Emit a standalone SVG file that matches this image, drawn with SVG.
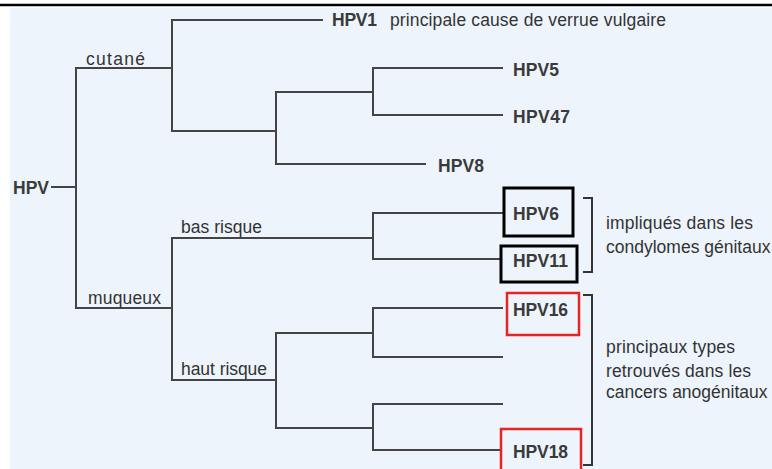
<svg xmlns="http://www.w3.org/2000/svg" width="772" height="469" viewBox="0 0 772 469">
<style>
.bg{fill:#edf4fb}
.ln{fill:none;stroke:#444;stroke-width:2;stroke-linecap:square}
.br{fill:none;stroke:#333;stroke-width:2}
.t{font-family:"Liberation Sans",Arial,sans-serif;font-size:17.5px;fill:#333}
.b{font-family:"Liberation Sans",Arial,sans-serif;font-size:17.5px;font-weight:bold;fill:#3a3a3a}
.kb{fill:none;stroke:#000;stroke-width:3}
.kr{fill:none;stroke:#e52525;stroke-width:2.5}
</style>
<rect x="0" y="0" width="772" height="469" fill="#fff"/>
<rect class="bg" x="10" y="8" width="762" height="461"/>
<line x1="0" y1="5" x2="772" y2="5" stroke="#000" stroke-width="2.5"/>
<g id="connectors">
<path class="ln" d="M52 187H76M76 68V308M76 68H172M76 308H172"/>
<path class="ln" d="M172 20V131M172 20H322M172 131H276M276 92V164M276 92H373M276 164H425M373 68V115M373 68H502M373 115H502"/>
<path class="ln" d="M172 238V380M172 238H373M172 380H276M373 213V259M373 213H503M373 259H501"/>
<path class="ln" d="M276 333V428M276 333H373M276 428H373M373 308V357M373 308H502M373 357H502M373 404V450M373 404H502M373 450H501"/>
<text class="t" x="86" y="65" textLength="59">cutané</text>
<text class="t" x="88" y="304" textLength="73">muqueux</text>
<text class="t" x="181" y="233" textLength="81">bas risque</text>
<text class="t" x="181" y="375" textLength="86">haut risque</text>
</g>
<g id="hpv"><text class="b" x="13" y="194" textLength="36">HPV</text></g>
<g id="hpv1"><text class="b" x="332" y="26" textLength="45">HPV1</text>
<text class="t" x="390" y="26" textLength="276">principale cause de verrue vulgaire</text></g>
<g id="hpv5"><text class="b" x="513" y="76" textLength="46">HPV5</text></g>
<g id="hpv47"><text class="b" x="513" y="123" textLength="57">HPV47</text></g>
<g id="hpv8"><text class="b" x="438" y="172" textLength="46">HPV8</text></g>
<g id="hpv6"><rect class="kb" x="504" y="188" width="69" height="48"/><text class="b" x="513" y="220" textLength="46">HPV6</text></g>
<g id="hpv11"><rect class="kb" x="501" y="246" width="76" height="36"/><text class="b" x="513" y="267" textLength="55">HPV11</text></g>
<g id="hpv16"><rect class="kr" x="507" y="293" width="72" height="42"/><text class="b" x="513" y="316" textLength="55">HPV16</text></g>
<g id="hpv18"><rect class="kr" x="501" y="429" width="80" height="50"/><text class="b" x="513" y="458" textLength="55">HPV18</text></g>
<g id="note-condylomes">
<path class="br" d="M583 198H592V272H583"/>
<text class="t" x="606" y="229" textLength="147">impliqués dans les</text>
<text class="t" x="606" y="253">condylomes génitaux</text>
</g>
<g id="note-cancers">
<path class="br" d="M583 295H592V465H583"/>
<text class="t" x="606" y="353" textLength="129">principaux types</text>
<text class="t" x="606" y="377" textLength="145">retrouvés dans les</text>
<text class="t" x="606" y="398">cancers anogénitaux</text>
</g>
</svg>
